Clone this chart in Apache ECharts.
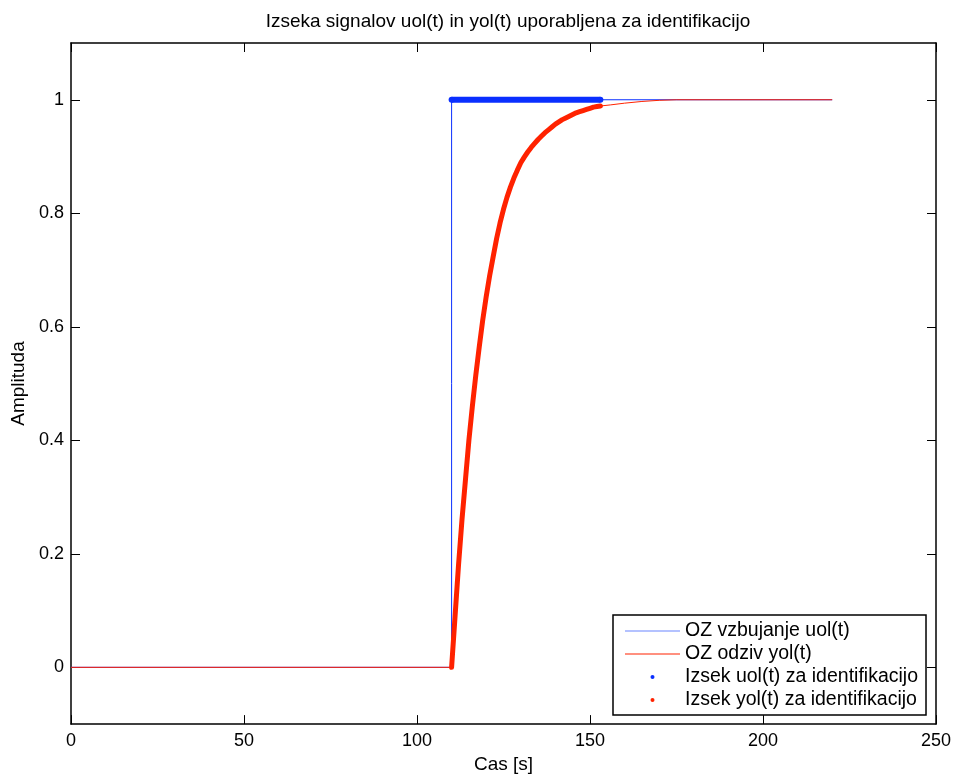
<!DOCTYPE html>
<html><head><meta charset="utf-8">
<script src="https://cdn.jsdelivr.net/npm/echarts@6/dist/echarts.min.js"></script>
<style>html,body{margin:0;padding:0;background:#fff}#c{width:955px;height:779px}</style>
</head><body><div id="c"></div>
<script>
// Input signal uol(t): step at t=110
const uTime = [0, 110, 110, 220];
const uVal  = [0, 0, 1, 1];
// Output response yol(t)
const yTime = [0, 110, 111, 112, 113, 114, 115, 116, 117, 118, 119, 120, 121, 122, 123, 124, 125, 126, 127, 128, 129, 130, 131, 132, 133, 134, 135, 136, 137, 138, 139, 140, 141, 142, 143, 144, 145, 146, 147, 148, 149, 150, 151, 152, 153, 156, 160, 165, 170, 175, 220];
const yVal  = [0, 0, 0.09, 0.18, 0.26, 0.33, 0.40, 0.46, 0.515, 0.565, 0.612, 0.653, 0.690, 0.723, 0.755, 0.783, 0.807, 0.828, 0.846, 0.862, 0.876, 0.889, 0.899, 0.908, 0.916, 0.923, 0.930, 0.936, 0.942, 0.947, 0.952, 0.957, 0.961, 0.965, 0.968, 0.971, 0.974, 0.977, 0.979, 0.981, 0.983, 0.985, 0.987, 0.988, 0.989, 0.991, 0.994, 0.997, 0.999, 1.0, 1.0];
// Identification window: samples from t=110 to t=153
const segStart = 110, segEnd = 153;
const xTicks = [0, 50, 100, 150, 200, 250];
const yTicks = [0, 0.2, 0.4, 0.6, 0.8, 1];

const names = ['OZ vzbujanje uol(t)', 'OZ odziv yol(t)', 'Izsek uol(t) za identifikacijo', 'Izsek yol(t) za identifikacijo'];
const blue = '#0a2fff', red = '#ff2200';

const uLine = uTime.map((t, i) => [t, uVal[i]]);
const yLine = yTime.map((t, i) => [t, yVal[i]]);
const uSeg = [[segStart, 1], [segEnd, 1]];
const ySeg = yLine.filter(p => p[0] >= segStart && p[0] <= segEnd);

const font = 'Liberation Sans, Arial, Helvetica, sans-serif';
const lineIcon = 'path://M0,0H55V1H0Z';

const chart = echarts.init(document.getElementById('c'), null, {renderer: 'canvas'});
chart.setOption({
  animation: false,
  backgroundColor: '#fff',
  title: {
    text: 'Izseka signalov uol(t) in yol(t) uporabljena za identifikacijo',
    left: 503, top: 7, textAlign: 'center',
    textStyle: {fontFamily: font, fontSize: 19, fontWeight: 'normal', color: '#000'}
  },
  grid: {left: 71, right: 19, top: 43, bottom: 54, show: false},
  legend: {
    orient: 'vertical', left: 613, top: 615,
    padding: [6, 8, 5, 12],
    itemWidth: 55, itemHeight: 4, itemGap: 3, itemTextGap: 8,
    borderColor: '#000', borderWidth: 1.5, backgroundColor: '#fff',
    textStyle: {fontFamily: font, fontSize: 19.5, color: '#000', lineHeight: 20},
    selectedMode: false,
    data: [
      {name: names[0], icon: lineIcon, itemStyle: {color: '#6a85ff'}},
      {name: names[1], icon: lineIcon, itemStyle: {color: red}},
      {name: names[2], icon: 'circle', itemStyle: {color: blue}},
      {name: names[3], icon: 'circle', itemStyle: {color: red}}
    ]
  },
  xAxis: [{
    type: 'value', min: 0, max: 250, interval: 50,
    name: 'Cas [s]', nameLocation: 'middle', nameGap: 29,
    nameTextStyle: {fontFamily: font, fontSize: 19, color: '#000'},
    axisLine: {onZero: false, lineStyle: {color: '#000', width: 1.5}},
    axisTick: {inside: true, length: 9, lineStyle: {color: '#000'}},
    axisLabel: {fontFamily: font, fontSize: 18, color: '#000', margin: 8},
    splitLine: {show: false}
  }, {
    type: 'value', min: 0, max: 250, interval: 50, position: 'top',
    axisLine: {onZero: false, lineStyle: {color: '#000', width: 1.5}},
    axisTick: {inside: true, length: 9, lineStyle: {color: '#000'}},
    axisLabel: {show: false}, splitLine: {show: false}
  }],
  yAxis: [{
    type: 'value', min: -0.1, max: 1.1,
    name: 'Amplituda', nameLocation: 'middle', nameGap: 42, nameRotate: 90,
    nameTextStyle: {fontFamily: font, fontSize: 19, color: '#000'},
    axisLine: {onZero: false, lineStyle: {color: '#000', width: 1.5}},
    axisTick: {inside: true, length: 9, customValues: yTicks, lineStyle: {color: '#000'}},
    axisLabel: {fontFamily: font, fontSize: 18, color: '#000', margin: 7, customValues: yTicks},
    splitLine: {show: false}
  }, {
    type: 'value', min: -0.1, max: 1.1, position: 'right',
    axisLine: {onZero: false, lineStyle: {color: '#000', width: 1.5}},
    axisTick: {inside: true, length: 9, customValues: yTicks, lineStyle: {color: '#000'}},
    axisLabel: {show: false, customValues: yTicks}, splitLine: {show: false}
  }],
  series: [
    {name: names[0], type: 'line', data: uLine, showSymbol: false, symbol: 'none',
     lineStyle: {color: blue, width: 1}, itemStyle: {color: blue}, z: 2},
    {name: names[1], type: 'line', data: yLine, showSymbol: false, symbol: 'none',
     lineStyle: {color: red, width: 1}, itemStyle: {color: red}, z: 3},
    {name: names[2], type: 'line', data: uSeg, showSymbol: true, symbol: 'circle', symbolSize: 6,
     lineStyle: {color: blue, width: 6}, itemStyle: {color: blue}, z: 4},
    {name: names[3], type: 'line', data: ySeg, showSymbol: false, symbol: 'circle', symbolSize: 6,
     lineStyle: {color: red, width: 5, join: 'round', cap: 'round'}, itemStyle: {color: red}, z: 5}
  ]
});
</script></body></html>
